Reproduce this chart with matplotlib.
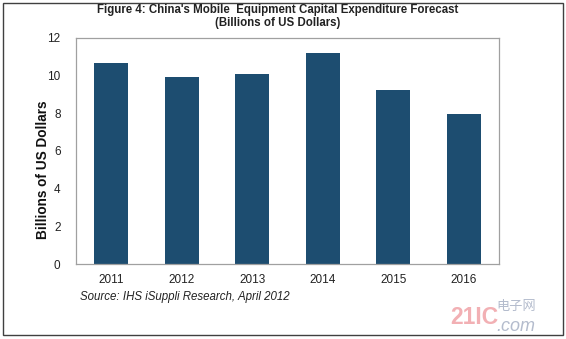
import numpy as np
import matplotlib
matplotlib.use("Agg")
from matplotlib import pyplot as plt
from matplotlib.patches import Rectangle

plt.rcParams['font.family'] = ['Liberation Sans', 'Noto Sans CJK SC', 'DejaVu Sans']

years = ['2011', '2012', '2013', '2014', '2015', '2016']
capex = [10.66, 9.92, 10.05, 11.16, 9.22, 7.93]
y_ticks = [0, 2, 4, 6, 8, 10, 12]

bar_color = '#1d4d70'

fig = plt.figure(figsize=(5.66, 3.39), dpi=100)
ax = fig.add_axes([0.134, 0.221, 0.748, 0.668])

x = np.arange(len(years))
ax.bar(x, capex, width=0.48, color=bar_color)

ax.set_xlim(-0.5, len(years) - 0.5)
ax.set_ylim(0, 12)
ax.set_xticks(x)
ax.set_xticklabels(years, fontsize=8.5, color='#222222')
ax.set_yticks(y_ticks)
ax.set_yticklabels([str(t) for t in y_ticks], fontsize=8.5, color='#222222')
ax.tick_params(length=0)
ax.tick_params(axis='y', pad=11)
ax.tick_params(axis='x', pad=7)
for s in ax.spines.values():
    s.set_color('#a0a0a0')
    s.set_linewidth(0.9)

ax.set_ylabel('Billions of US Dollars', fontsize=9.8, fontweight='bold', color='#111111')
ax.yaxis.set_label_coords(-0.06, 0.415)

fig.text(0.49, 0.970, "Figure 4: China's Mobile  Equipment Capital Expenditure Forecast",
         ha='center', va='center', fontsize=8.3, fontweight='bold', color='#222222')
fig.text(0.49, 0.932, "(Billions of US Dollars)",
         ha='center', va='center', fontsize=8.3, fontweight='bold', color='#222222')

fig.text(0.141, 0.124, "Source: IHS iSuppli Research, April 2012",
         ha='left', va='center', fontsize=8.3, style='italic', color='#222222')

# site watermark, bottom right
fig.text(0.795, 0.062, "21IC", ha='left', va='center', fontsize=16.5,
         fontweight='bold', color='#f2b0b4')
fig.text(0.877, 0.093, "电子网", ha='left', va='center', fontsize=9.5,
         color='#b4bccd')
fig.text(0.877, 0.038, ".com", ha='left', va='center', fontsize=13,
         style='italic', color='#b4bccd')

# outer frame
fig.patches.append(Rectangle((3 / 566, 1 - 335 / 339), 560 / 566, 332 / 339,
                             transform=fig.transFigure, fill=False,
                             edgecolor='#404040', linewidth=1.0))

fig.savefig('out.png', dpi=100)
